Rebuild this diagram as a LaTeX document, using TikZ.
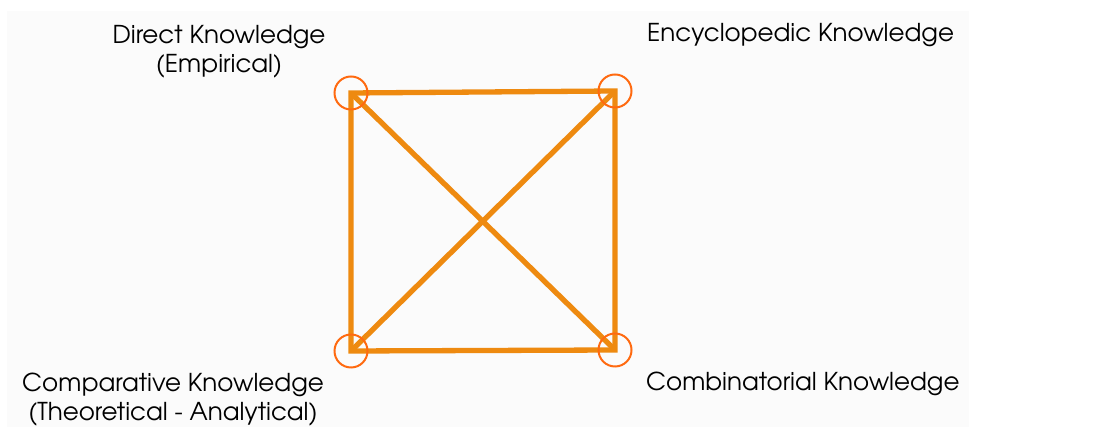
\documentclass[tikz,border=0pt]{standalone}
\usepackage{fontspec}
\setmainfont{TeX Gyre Adventor}
\usetikzlibrary{backgrounds}
\definecolor{edge}{HTML}{EE8A10}
\definecolor{ring}{HTML}{FF6A10}
\definecolor{paper}{HTML}{FBFBFB}

\begin{document}
\begin{tikzpicture}[x=1pt,y=1pt, every node/.style={font=\fontsize{24.6}{29}\selectfont,align=center}, c/.style={circle,draw=ring,line width=2pt,minimum size=33pt,inner sep=0pt}, e/.style={draw=edge,line width=5.3pt,line join=miter}, lbl/.style={inner sep=0pt,text=black}]
\useasboundingbox (0,0) rectangle (1113,427);
\node[c] (direct) at (351,334) {};
\node[c] (ency) at (615,336) {};
\node[c] (combi) at (615,77) {};
\node[c] (comp) at (351,76) {};
\node[lbl,anchor=north] (dl) at (219,402) {Direct Knowledge\\(Empirical)};
\node[lbl,anchor=base west] (el) at (647,385) {Encyclopedic Knowledge};
\node[lbl,anchor=north] (cl) at (173,54) {Comparative Knowledge\\(Theoretical - Analytical)};
\node[lbl,anchor=base west] (bl) at (646,36) {Combinatorial Knowledge};
\begin{scope}[on background layer]
\fill[paper] (7,0) rectangle (969,416);
\draw[e] (direct.center)--(ency.center)--(combi.center)--(comp.center)--cycle;
\draw[e] (direct.center)--(combi.center);
\draw[e] (ency.center)--(comp.center);
\end{scope}
\end{tikzpicture}
\end{document}
